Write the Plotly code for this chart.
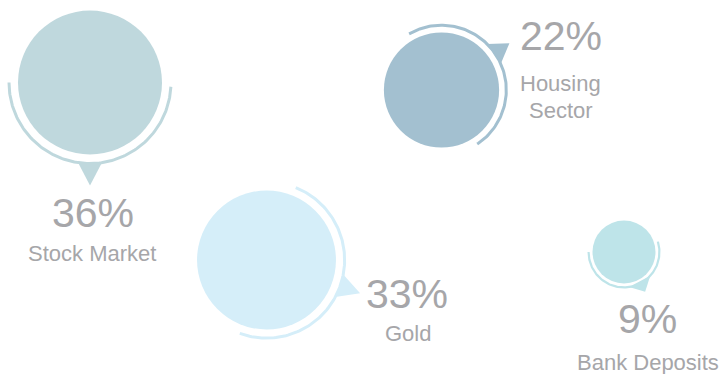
import numpy as np
import plotly.graph_objects as go

# ---- data ----
categories = ["Stock Market", "Housing Sector", "Gold", "Bank Deposits"]
values = [36, 22, 33, 9]
label_lines = [["Stock Market"], ["Housing", "Sector"], ["Gold"], ["Bank Deposits"]]

# ---- layout (pixel space of the 720x374 canvas) ----
W, H = 720, 374
center_x = [90, 441.5, 266.5, 624]
center_y = [82.5, 90, 260, 252]
pointer_angle = [-90, 34.5, -19.5, -62]     # degrees, math convention (y up)
arc_from = [180, 120, 68, -180]
arc_to = [357, -56.6, -110, 17]
arc_width = [3, 3, 3, 2.2]
pct_pos = [(92.5, 212.5), (561, 36), (407, 293.5), (647.5, 319)]
lbl_pos = [[(92, 253.5)], [(560.5, 83), (560.5, 110)], [(407.5, 333)], [(647.5, 362.5)]]
colors = ["#BFD8DD", "#A3C0D0", "#D5EEF9", "#BEE4E9"]
text_color = "#A6A6A9"
FONT = "Liberation Sans, Arial, sans-serif"
PCT_SIZE, LBL_SIZE = 41, 22

# radius scale (logarithmic size scale)
R_MIN, R_MAX = 31.5, 72.0
vmin, vmax = min(values), max(values)
def radius(v):
    return R_MIN + (R_MAX - R_MIN) * (np.log(v) - np.log(vmin)) / (np.log(vmax) - np.log(vmin))

fig = go.Figure()

for i, v in enumerate(values):
    cx, cy = center_x[i], center_y[i]
    r = radius(v)
    ra = 1.125 * r
    col = colors[i]
    # arc
    t = np.radians(np.linspace(arc_from[i], arc_to[i], 120))
    fig.add_trace(go.Scatter(x=cx + ra * np.cos(t), y=cy - ra * np.sin(t), mode="lines",
                             line=dict(color=col, width=arc_width[i]), hoverinfo="skip"))
    # pointer triangle
    a = np.radians(pointer_angle[i])
    half = np.arcsin(12.0 / ra)
    tip_d = 1.43 * r
    px = [cx + ra * np.cos(a - half), cx + tip_d * np.cos(a), cx + ra * np.cos(a + half)]
    py = [cy - ra * np.sin(a - half), cy - tip_d * np.sin(a), cy - ra * np.sin(a + half)]
    fig.add_trace(go.Scatter(x=px + [px[0]], y=py + [py[0]], mode="lines", fill="toself",
                             fillcolor=col, line=dict(width=0, color=col), hoverinfo="skip"))
    # bubble
    fig.add_trace(go.Scatter(x=[cx], y=[cy], mode="markers",
                             marker=dict(size=2 * r, color=col, line=dict(width=0)),
                             name=categories[i], hoverinfo="skip"))
    # texts
    fig.add_annotation(x=pct_pos[i][0], y=pct_pos[i][1], text=f"{v}%", showarrow=False,
                       xanchor="center", yanchor="middle",
                       font=dict(family=FONT, size=PCT_SIZE, color=text_color))
    for line, (lx, ly) in zip(label_lines[i], lbl_pos[i]):
        fig.add_annotation(x=lx, y=ly, text=line, showarrow=False,
                           xanchor="center", yanchor="middle",
                           font=dict(family=FONT, size=LBL_SIZE, color=text_color))

fig.update_layout(
    width=W, height=H, margin=dict(l=0, r=0, t=0, b=0),
    paper_bgcolor="white", plot_bgcolor="white", showlegend=False,
    xaxis=dict(range=[0, W], visible=False, fixedrange=True),
    yaxis=dict(range=[H, 0], visible=False, fixedrange=True),
)

fig.write_html("out.html")
